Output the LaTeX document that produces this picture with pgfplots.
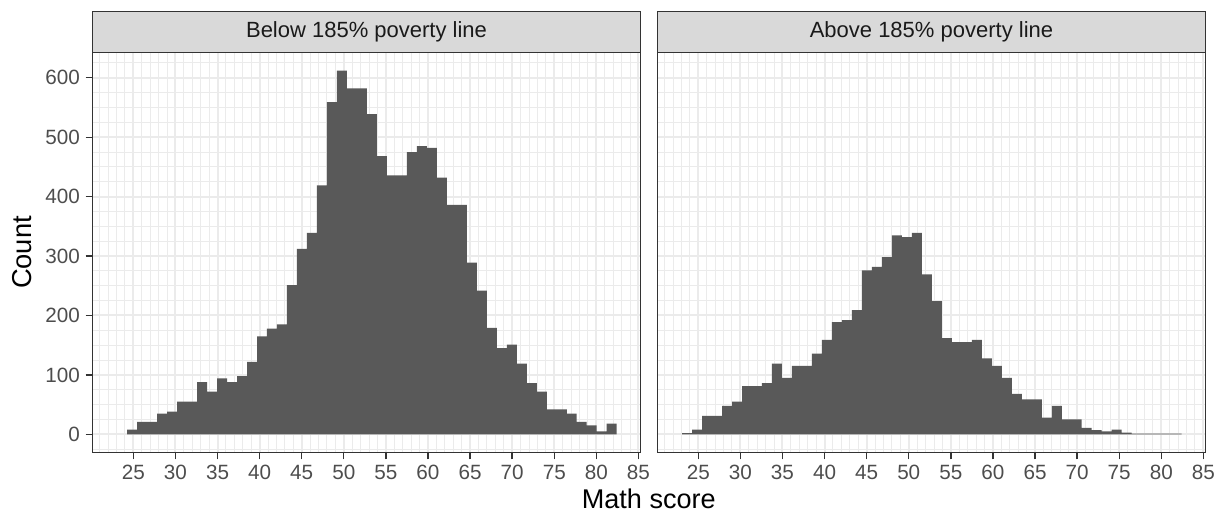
\documentclass[border=0pt]{standalone}
\usepackage{fontspec}
\setmainfont{Liberation Sans}
\usepackage{pgfplots}
\usepackage{pgfplotstable}
\pgfplotsset{compat=1.18}
\definecolor{barfill}{HTML}{595959}
\definecolor{gridc}{HTML}{EBEBEB}
\definecolor{grey20}{HTML}{333333}
\definecolor{grey30}{HTML}{4D4D4D}
\definecolor{grey85}{HTML}{D9D9D9}
\definecolor{grey10}{HTML}{1A1A1A}

% bin left edges (last row = right edge of last bin), counts
\pgfplotstableread{
x y
24.257 8
25.444 21
26.631 21
27.818 35
29.005 38
30.192 55
31.379 55
32.566 88
33.753 72
34.940 94
36.127 88
37.314 98
38.501 122
39.688 165
40.875 178
42.062 185
43.249 251
44.436 312
45.623 339
46.810 419
47.997 559
49.184 612
50.371 582
51.558 582
52.745 539
53.932 468
55.119 436
56.306 436
57.493 475
58.680 485
59.867 482
61.054 432
62.241 386
63.428 386
64.615 289
65.802 242
66.989 179
68.176 145
69.363 151
70.550 119
71.737 86
72.924 72
74.111 42
75.298 42
76.485 35
77.672 21
78.859 15
80.046 5
81.233 18
82.420 18
}\below

\pgfplotstableread{
x y
23.070 2
24.257 8
25.444 31
26.631 31
27.818 48
29.005 55
30.192 81
31.379 81
32.566 86
33.753 119
34.940 95
36.127 115
37.314 115
38.501 136
39.688 159
40.875 189
42.062 192
43.249 209
44.436 276
45.623 282
46.810 298
47.997 335
49.184 332
50.371 339
51.558 269
52.745 224
53.932 162
55.119 155
56.306 155
57.493 159
58.680 128
59.867 115
61.054 95
62.241 68
63.428 59
64.615 59
65.802 28
66.989 48
68.176 25
69.363 25
70.550 11
71.737 7
72.924 5
74.111 8
75.298 3
76.485 1
77.672 1
78.859 1
80.046 1
81.233 1
82.420 1
}\above

\pgfplotsset{
  panel/.style={
    anchor=south west, scale only axis, width=411pt, height=300pt,
    xmin=20.15, xmax=85.25, ymin=-30.6, ymax=642.6,
    xtick={25,30,...,85}, ytick={0,100,...,600},
    minor xtick={20,21,...,85}, minor ytick={-25,0,...,625},
    grid=both,
    major grid style={color=gridc, line width=1.5pt},
    minor grid style={color=gridc, line width=0.75pt},
    tick align=outside, tick pos=left,
    major tick length=5.25pt, minor tick length=0pt,
    every major tick/.append style={color=grey20, line width=1pt},
    axis line style={color=grey20, line width=1pt},
    /pgf/number format/assume math mode=true,
    ticklabel style={font=\fontsize{15.5}{18}\selectfont, text=grey30},
    xticklabel style={inner sep=0pt, anchor=north, yshift=-4pt},
    yticklabel style={inner sep=0pt, anchor=east, xshift=-4pt},
    clip=false,
  },
}

\begin{document}
\begin{tikzpicture}
\path[use as bounding box] (0,0) rectangle (917.25pt,387.75pt);

\begin{axis}[panel, at={(69.4pt,48.375pt)}]
  \addplot[const plot, fill=barfill, draw=none] table {\below} \closedcycle;
  \draw[fill=grey85, draw=grey20, line width=1pt] (rel axis cs:0,1) rectangle ([yshift=30.6pt]rel axis cs:1,1);
  \node[text=grey10, font=\fontsize{16.5}{19}\selectfont] at ([yshift=15.3pt]rel axis cs:0.5,1) {Below 185\% poverty line};
\end{axis}

\begin{axis}[panel, at={(493.1pt,48.375pt)}, yticklabels={}, every major y tick/.append style={opacity=0}]
  \addplot[const plot, fill=barfill, draw=none] table {\above} \closedcycle;
  \draw[fill=grey85, draw=grey20, line width=1pt] (rel axis cs:0,1) rectangle ([yshift=30.6pt]rel axis cs:1,1);
  \node[text=grey10, font=\fontsize{16.5}{19}\selectfont] at ([yshift=15.3pt]rel axis cs:0.5,1) {Above 185\% poverty line};
\end{axis}

\node[rotate=90, anchor=base, font=\fontsize{20.5}{23}\selectfont] at (24pt,198.4pt) {Count};
\node[anchor=base, font=\fontsize{20.3}{23}\selectfont] at (486.6pt,6pt) {Math score};
\end{tikzpicture}
\end{document}
